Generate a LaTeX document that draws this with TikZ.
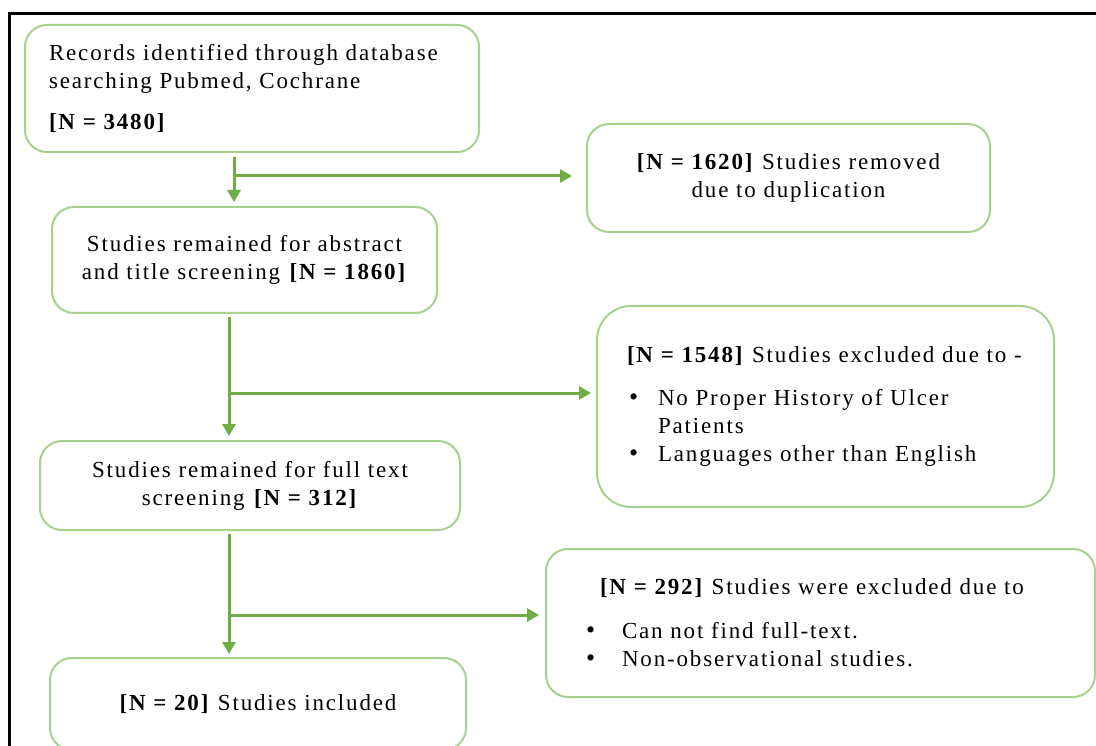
\documentclass[tikz,border=0pt]{standalone}
\usepackage{fontspec}
\setmainfont{Liberation Serif}[LetterSpace=8]
\usetikzlibrary{arrows.meta,positioning}

\definecolor{boxgreen}{RGB}{169,208,142}
\definecolor{arrowgreen}{RGB}{112,173,71}

% push the text of a box up a little
\newcommand{\liftby}[1]{\par\vspace*{#1}}
\newcommand{\itemdot}[1]{\makebox[#1][l]{\hspace*{-4pt}{\fontsize{26}{28}\selectfont\textbullet}}}

\begin{document}
\begin{tikzpicture}[x=1pt, y=-1pt,
    every node/.style={font=\fontsize{23}{28}\selectfont},
    box/.style={draw=boxgreen, line width=2pt, rounded corners=22pt, inner sep=0pt},
    arr/.style={draw=arrowgreen, line width=3pt, -{Triangle[width=13pt,length=12pt]}},
    frame/.style={draw=black, line width=3pt}]

    \useasboundingbox (0,0) rectangle (1096,746);
    \fill[white] (0,0) rectangle (1096,746);
    \clip (0,0) rectangle (1096,746);

    \draw[frame] (9,746) -- (9,14) -- (1096,14);

    % left column
    \node[box, minimum width=454, minimum height=127, text width=406, align=left] (records) at (252,88.5)
        {Records identified through database\\ searching Pubmed, Cochrane\\[13pt]\textbf{[N = 3480]}\liftby{8pt}};
    \node[box, minimum width=385, minimum height=106, text width=360, align=center] (abstract) at (244.5,260)
        {Studies remained for abstract\\ and title screening \textbf{[N = 1860]}\liftby{12pt}};
    \node[box, minimum width=420, minimum height=89, text width=400, align=center] (fulltext) at (250,485.5)
        {Studies remained for full text\\ screening \textbf{[N = 312]}\liftby{11pt}};
    \node[box, minimum width=416, minimum height=92, text width=390, align=center] (included) at (258,704)
        {\textbf{[N = 20]} Studies included\liftby{18pt}};

    % right column
    \node[box, minimum width=403, minimum height=108, text width=380, align=center] (duplicates) at (788.5,178)
        {\textbf{[N = 1620]} Studies removed\\ due to duplication\liftby{14pt}};
    \node[box, rounded corners=34pt, minimum width=457, minimum height=201, text width=397, align=left] (excluded) at (825.5,406.5)
        {\textbf{[N = 1548]} Studies excluded due to -\\[15pt]
         \hspace*{6pt}\itemdot{25pt}No Proper History of Ulcer\\
         \hspace*{31pt}Patients\\
         \hspace*{6pt}\itemdot{25pt}Languages other than English\liftby{14pt}};
    \node[box, minimum width=549, minimum height=148, text width=461, align=left] (nofull) at (820.5,623)
        {\hspace*{10pt}\textbf{[N = 292]} Studies were excluded due to\\[16pt]
         \itemdot{32pt}Can not find full-text.\\
         \itemdot{32pt}Non-observational studies.\liftby{18pt}};

    % branch points
    \coordinate (k1) at (234,176);
    \coordinate (k2) at (229,393);
    \coordinate (k3) at (229,615);

    \draw[arr, shorten <=4pt, shorten >=4pt] (records.south -| k1) -- (abstract.north -| k1);
    \draw[arr, shorten >=14pt] (k1) -- (k1 -| duplicates.west);
    \draw[arr, shorten <=3pt, shorten >=4pt] (abstract.south -| k2) -- (fulltext.north -| k2);
    \draw[arr, shorten >=5pt] (k2) -- (k2 -| excluded.west);
    \draw[arr, shorten <=3pt, shorten >=3pt] (fulltext.south -| k3) -- (included.north -| k3);
    \draw[arr, shorten >=6pt] (k3) -- (k3 -| nofull.west);
\end{tikzpicture}
\end{document}
